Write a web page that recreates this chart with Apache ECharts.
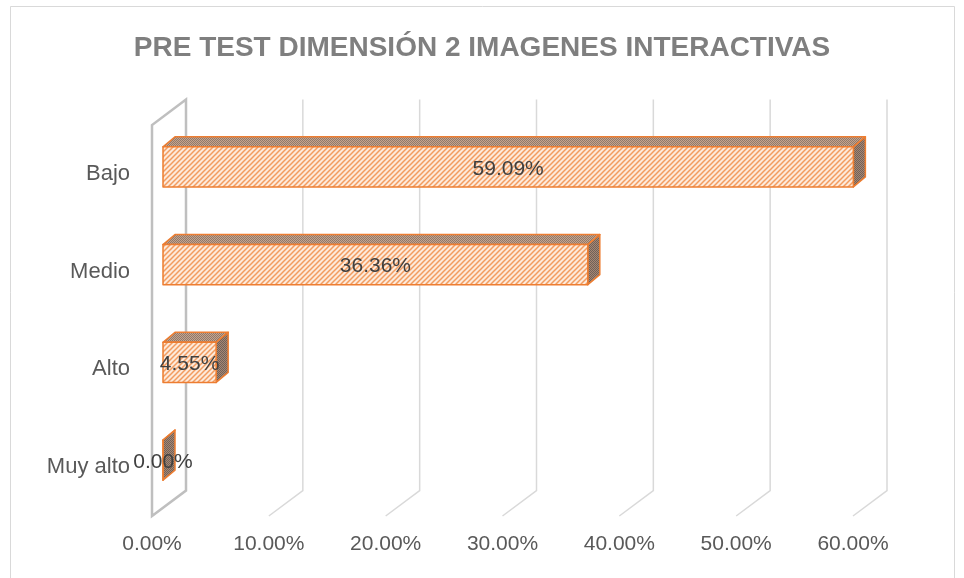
<!DOCTYPE html>
<html>
<head>
<meta charset="utf-8">
<script src="https://cdn.jsdelivr.net/npm/echarts@6/dist/echarts.min.js"></script>
<style>
  html, body { margin: 0; padding: 0; background: #fff; }
  #chart { width: 964px; height: 578px; }
</style>
</head>
<body>
<div id="chart"></div>
<script>
// data
const categories = ['Bajo', 'Medio', 'Alto', 'Muy alto'];
const values = [0.5909, 0.3636, 0.0455, 0];
const ticks = [0, 0.1, 0.2, 0.3, 0.4, 0.5, 0.6];

// fake 3D depth (pixels): walls and bars
const DX = 34, DY = -25.5;
const BAR_FRONT = [11, -7];
const BAR_BACK = [23, -17];

const pct = v => (v * 100).toFixed(2) + '%';

// small canvas patterns for the Excel-like fills
function makePattern(w, h, draw) {
  const c = document.createElement('canvas');
  c.width = w; c.height = h;
  draw(c.getContext('2d'));
  return c;
}
const hatch = makePattern(5, 5, ctx => {
  ctx.fillStyle = '#fdeadb';
  ctx.fillRect(0, 0, 5, 5);
  ctx.strokeStyle = '#f29c60';
  ctx.lineWidth = 1.5;
  ctx.beginPath();
  ctx.moveTo(-1, 6); ctx.lineTo(6, -1);
  ctx.moveTo(-1, 1); ctx.lineTo(1, -1);
  ctx.moveTo(4, 6); ctx.lineTo(6, 4);
  ctx.stroke();
});
const dotsTop = makePattern(4, 4, ctx => {
  ctx.fillStyle = '#c9a38a';
  ctx.fillRect(0, 0, 4, 4);
  ctx.fillStyle = '#8c7a6e';
  [[0, 0], [2, 0], [1, 1], [3, 1], [0, 2], [2, 2], [1, 3], [3, 3]].forEach(p => ctx.fillRect(p[0], p[1], 1, 1));
});
const dotsSide = makePattern(4, 4, ctx => {
  ctx.fillStyle = '#a88672';
  ctx.fillRect(0, 0, 4, 4);
  ctx.fillStyle = '#6f625a';
  [[0, 0], [2, 0], [1, 1], [3, 1], [0, 2], [2, 2], [1, 3], [3, 3]].forEach(p => ctx.fillRect(p[0], p[1], 1, 1));
});

const chart = echarts.init(document.getElementById('chart'));

const option = {
  backgroundColor: '#fff',
  animation: false,
  title: {
    text: 'PRE TEST DIMENSIÓN 2 IMAGENES INTERACTIVAS',
    left: 'center',
    top: 29,
    textStyle: {
      color: '#7f7f7f',
      fontSize: 28,
      fontWeight: 'bold',
      fontFamily: 'Liberation Sans'
    }
  },
  graphic: [
    {
      type: 'rect',
      silent: true,
      shape: { x: 10.5, y: 6.5, width: 944, height: 600 },
      style: { fill: 'none', stroke: '#d9d9d9', lineWidth: 1 }
    }
  ],
  grid: { left: 152, top: 125, width: 701, height: 391 },
  xAxis: {
    type: 'value',
    min: 0,
    max: 0.6,
    interval: 0.1,
    axisLine: { show: false },
    axisTick: { show: false },
    splitLine: { show: false },
    axisLabel: {
      formatter: pct,
      fontSize: 21,
      color: '#595959',
      fontFamily: 'Liberation Sans',
      margin: 18
    }
  },
  yAxis: {
    type: 'category',
    data: categories,
    inverse: true,
    axisLine: { show: false },
    axisTick: { show: false },
    splitLine: { show: false },
    axisLabel: {
      fontSize: 22,
      color: '#595959',
      fontFamily: 'Liberation Sans',
      margin: 22
    }
  },
  series: [
    {
      // side wall + back gridlines
      type: 'custom',
      silent: true,
      z: 1,
      data: ticks.map(t => [t, 0]),
      encode: { x: 0, y: 1 },
      renderItem: (params, api) => {
        const cs = params.coordSys;
        const v = api.value(0);
        const x = api.coord([v, 0])[0];
        const yb = cs.y + cs.height, yt = cs.y;
        if (v === 0) {
          return {
            type: 'polygon',
            shape: { points: [[x, yb], [x, yt], [x + DX, yt + DY], [x + DX, yb + DY]] },
            style: { fill: 'none', stroke: '#bfbfbf', lineWidth: 2.5 }
          };
        }
        return {
          type: 'polyline',
          shape: { points: [[x, yb], [x + DX, yb + DY], [x + DX, yt + DY]] },
          style: { fill: 'none', stroke: '#d9d9d9', lineWidth: 1.5 }
        };
      }
    },
    {
      // 3D-looking bars
      type: 'custom',
      z: 2,
      data: values.map((v, i) => [v, i]),
      encode: { x: 0, y: 1 },
      renderItem: (params, api) => {
        const v = api.value(0);
        const cat = api.value(1);
        const start = api.coord([0, cat]);
        const end = api.coord([v, cat]);
        const h = api.size([0, 1])[1] * 0.41;
        const x0 = start[0] + BAR_FRONT[0];
        const x1 = end[0] + BAR_FRONT[0];
        const yT = end[1] - h / 2 + BAR_FRONT[1];
        const yB = end[1] + h / 2 + BAR_FRONT[1];
        const ddx = BAR_BACK[0] - BAR_FRONT[0];
        const ddy = BAR_BACK[1] - BAR_FRONT[1];
        const edge = { stroke: '#ed7d31', lineWidth: 1.5, lineJoin: 'round' };
        return {
          type: 'group',
          children: [
            {
              type: 'polygon',
              shape: { points: [[x0, yT], [x1, yT], [x1 + ddx, yT + ddy], [x0 + ddx, yT + ddy]] },
              style: Object.assign({ fill: { image: dotsTop, repeat: 'repeat' } }, edge)
            },
            {
              type: 'polygon',
              shape: { points: [[x1, yT], [x1 + ddx, yT + ddy], [x1 + ddx, yB + ddy], [x1, yB]] },
              style: Object.assign({ fill: { image: dotsSide, repeat: 'repeat' } }, edge)
            },
            {
              type: 'polygon',
              shape: { points: [[x0, yT], [x1, yT], [x1, yB], [x0, yB]] },
              style: Object.assign({ fill: { image: hatch, repeat: 'repeat' } }, edge)
            },
            {
              type: 'text',
              style: {
                text: pct(v),
                x: (x0 + x1) / 2,
                y: (yT + yB) / 2 + 2,
                align: 'center',
                verticalAlign: 'middle',
                fill: '#404040',
                font: '21px "Liberation Sans"'
              }
            }
          ]
        };
      }
    }
  ]
};

chart.setOption(option);
</script>
</body>
</html>
